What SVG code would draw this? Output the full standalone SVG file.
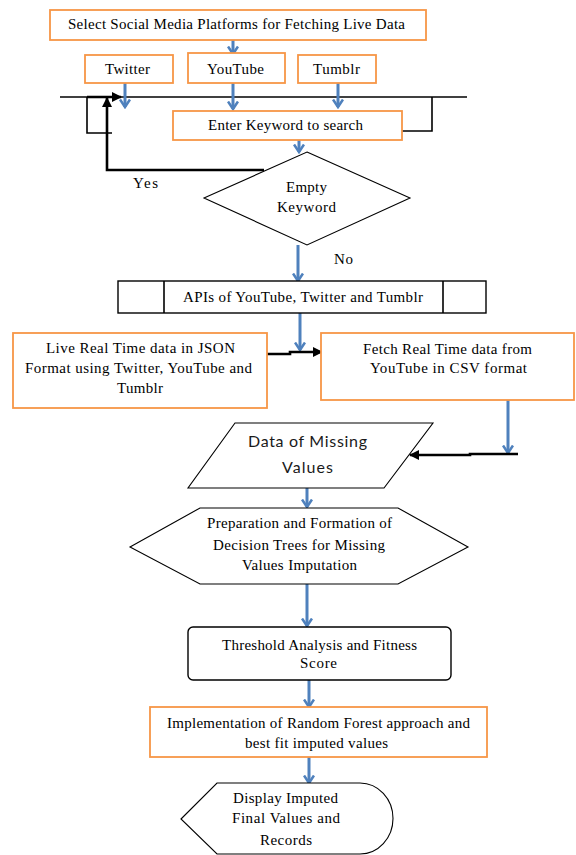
<svg xmlns="http://www.w3.org/2000/svg" width="576" height="855" viewBox="0 0 576 855">
<style>
.ob{fill:#fff;stroke:#F79646;stroke-width:1.8}
.kb{fill:#fff;stroke:#000;stroke-width:1.4}
.ks{fill:#fff;stroke:#000;stroke-width:1.1}
.t{font-family:"Liberation Serif","Times New Roman",serif;font-size:15px;fill:#000;text-anchor:middle}
.s{font-family:Lato,"Open Sans",sans-serif;font-size:16px;fill:#1a1a1a;text-anchor:middle}
.bl{stroke:#4F81BD;stroke-width:3;fill:none;marker-end:url(#ba)}
.k1{stroke:#000;stroke-width:1.6;fill:none}
.ka{stroke:#000;stroke-width:2.6;fill:none;marker-end:url(#ka)}
</style>
<defs>
<marker id="ba" viewBox="0 0 10 12" refX="8.5" refY="6" markerUnits="userSpaceOnUse" markerWidth="10" markerHeight="12" orient="auto">
<path d="M1,1 L8.5,6 L1,11" fill="none" stroke="#4F81BD" stroke-width="2.6" stroke-linejoin="miter"/>
</marker>
<marker id="ka" viewBox="0 0 10 10" refX="9" refY="5" markerUnits="userSpaceOnUse" markerWidth="10" markerHeight="10" orient="auto">
<path d="M0,0 L10,5 L0,10 Z" fill="#000"/>
</marker>
</defs>

<g id="connectors">
<line class="k1" x1="60" y1="97" x2="467" y2="97"/>
<polyline class="k1" points="402,131 432,131 432,97"/>
<polyline class="k1" points="87,97 87,133 112,133"/>
<line class="ka" x1="87" y1="97" x2="121" y2="97"/>
<polyline class="ka" points="264,170 107,170 107,98"/>
<line class="bl" x1="233" y1="40" x2="233" y2="54"/>
<line class="bl" x1="125" y1="83" x2="125" y2="107"/>
<line class="bl" x1="233" y1="83" x2="233" y2="109"/>
<line class="bl" x1="338" y1="83" x2="338" y2="107"/>
<line class="bl" x1="299" y1="140" x2="299" y2="152"/>
<line class="bl" x1="298" y1="245" x2="298" y2="281"/>
<line class="bl" x1="300" y1="313" x2="300" y2="350"/>
<polyline class="ka" points="267,354 290,354 290,352 322,352"/>
<line class="bl" x1="508" y1="400" x2="508" y2="453"/>
<polyline class="ka" points="518,454 470,454 470,455 410,455"/>
<line class="bl" x1="307" y1="488" x2="307" y2="507"/>
<line class="bl" x1="307" y1="584" x2="307" y2="626"/>
<line class="bl" x1="309" y1="680" x2="309" y2="707"/>
<line class="bl" x1="309" y1="757" x2="309" y2="783"/>
</g>

<g id="select-platforms">
<rect class="ob" x="50" y="10" width="376" height="30"/>
<text class="t" x="236.5" y="29" textLength="337">Select Social Media Platforms for Fetching Live Data</text>
</g>
<g id="twitter">
<rect class="ob" x="85" y="55" width="88" height="28"/>
<text class="t" x="127.5" y="74" textLength="45">Twitter</text>
</g>
<g id="youtube">
<rect class="ob" x="188" y="53" width="97" height="30"/>
<text class="t" x="235.5" y="74" textLength="57">YouTube</text>
</g>
<g id="tumblr">
<rect class="ob" x="298" y="55" width="78" height="28"/>
<text class="t" x="336.5" y="74" textLength="47">Tumblr</text>
</g>
<g id="enter-keyword">
<rect class="ob" x="173" y="111" width="229" height="29"/>
<text class="t" x="285.5" y="130" textLength="155">Enter Keyword to search</text>
</g>
<g id="yes-label">
<text class="t" x="145.5" y="188" textLength="25">Yes</text>
</g>
<g id="empty-keyword">
<polygon class="ks" points="307,152 410,198 307,245 204,198"/>
<text class="t" x="306.5" y="192" textLength="41">Empty</text>
<text class="t" x="306.5" y="212" textLength="59">Keyword</text>
</g>
<g id="no-label">
<text class="t" x="343.5" y="264" textLength="19">No</text>
</g>
<g id="apis">
<rect class="kb" x="118" y="281" width="368" height="32"/>
<line class="k1" x1="164" y1="281" x2="164" y2="313"/>
<line class="k1" x1="443" y1="281" x2="443" y2="313"/>
<text class="t" x="303" y="302" textLength="240">APIs of YouTube, Twitter and Tumblr</text>
</g>
<g id="live-json">
<rect class="ob" x="13" y="333" width="254" height="75"/>
<text class="t" x="140.5" y="353" textLength="189">Live Real Time data in JSON</text>
<text class="t" x="138.5" y="373" textLength="227">Format using Twitter, YouTube and</text>
<text class="t" x="140" y="393" textLength="46">Tumblr</text>
</g>
<g id="fetch-csv">
<rect class="ob" x="321" y="333" width="253" height="67"/>
<text class="t" x="447.5" y="354" textLength="169">Fetch Real Time data from</text>
<text class="t" x="448.5" y="373" textLength="157">YouTube in CSV format</text>
</g>
<g id="missing-values">
<polygon class="ks" points="235,423 433,423 384,488 188,488"/>
<text class="s" x="307.5" y="447" textLength="119">Data of Missing</text>
<text class="s" x="307.5" y="473" textLength="51">Values</text>
</g>
<g id="decision-trees">
<polygon class="ks" points="130,547 200,508 398,508 468,547 398,584 200,584"/>
<text class="t" x="299.5" y="528" textLength="185">Preparation and Formation of</text>
<text class="t" x="299" y="550" textLength="172">Decision Trees for Missing</text>
<text class="t" x="299.5" y="570" textLength="115">Values Imputation</text>
</g>
<g id="threshold">
<rect class="kb" x="188" y="627" width="263" height="53" rx="5"/>
<text class="t" x="319.5" y="650" textLength="195">Threshold Analysis and Fitness</text>
<text class="t" x="318.5" y="668" textLength="37">Score</text>
</g>
<g id="random-forest">
<rect class="ob" x="150" y="707" width="337" height="50"/>
<text class="t" x="318.5" y="728" textLength="303">Implementation of Random Forest approach and</text>
<text class="t" x="316.5" y="748" textLength="143">best fit imputed values</text>
</g>
<g id="display">
<path class="ks" d="M181,819 L217,783 L360,783 A33,35.5 0 0 1 360,854 L217,854 Z"/>
<text class="t" x="285.5" y="803" textLength="105">Display Imputed</text>
<text class="t" x="286" y="823" textLength="108">Final Values and</text>
<text class="t" x="286" y="845" textLength="52">Records</text>
</g>
</svg>
